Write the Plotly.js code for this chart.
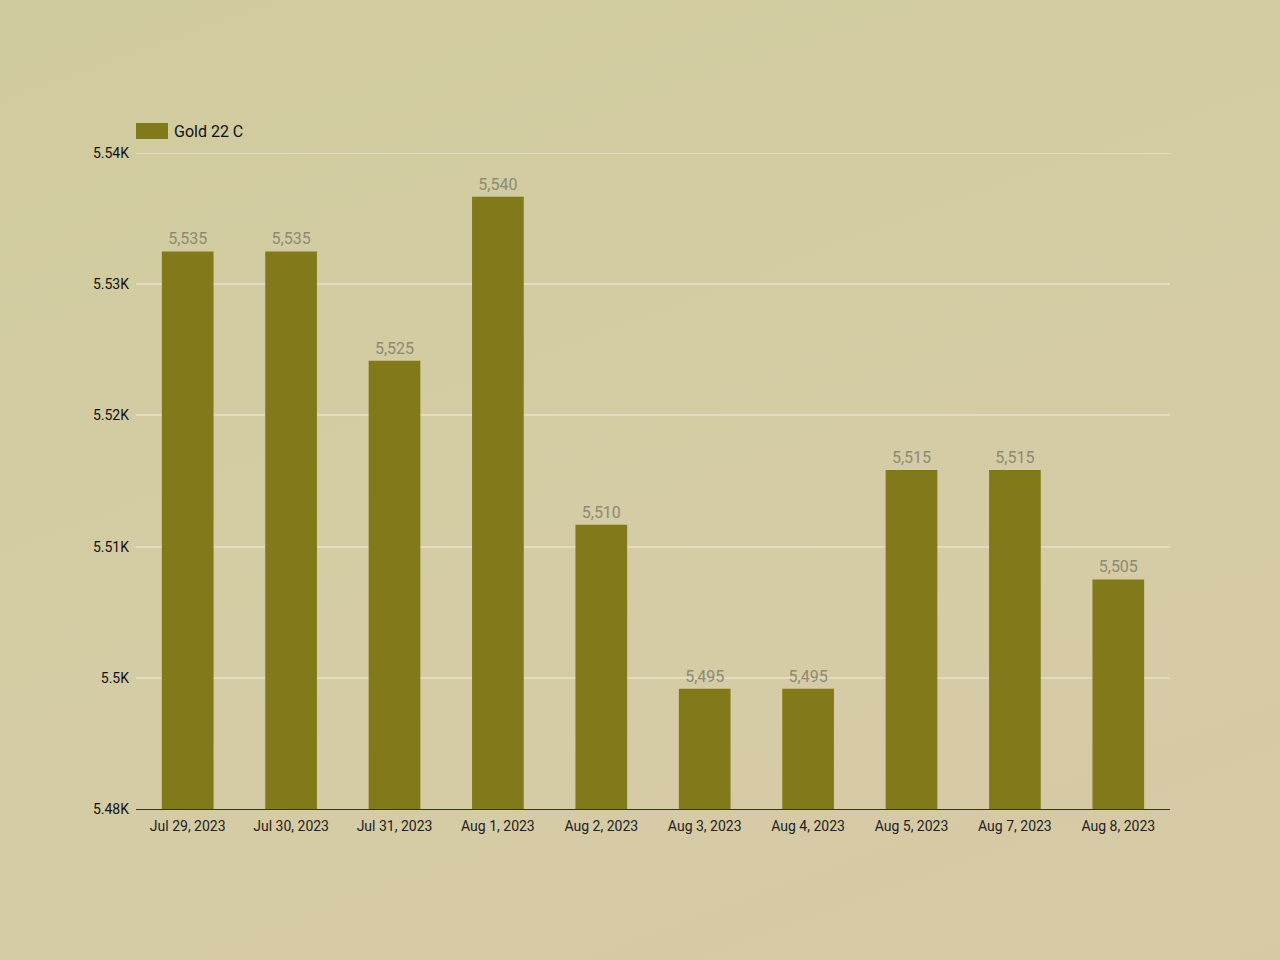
<!DOCTYPE html>
<html>
<head>
<meta charset="utf-8">
<script src="https://cdn.plot.ly/plotly-3.0.1.min.js"></script>
<style>
  html, body { margin: 0; padding: 0; }
  body { width: 1280px; height: 960px; background: linear-gradient(160deg, #d0cb9e 0%, #d4cca4 50%, #d7c9a6 100%); }
  #chart { width: 1280px; height: 960px; }
</style>
</head>
<body>
<div id="chart"></div>
<script>
const categories = ["Jul 29, 2023", "Jul 30, 2023", "Jul 31, 2023", "Aug 1, 2023", "Aug 2, 2023",
                    "Aug 3, 2023", "Aug 4, 2023", "Aug 5, 2023", "Aug 7, 2023", "Aug 8, 2023"];
const gold22 = [5535, 5535, 5525, 5540, 5510, 5495, 5495, 5515, 5515, 5505];
const seriesName = "Gold 22 C";
const yTickVals = [5484, 5496, 5508, 5520, 5532, 5544];
const yTickText = ["5.48K", "5.5K", "5.51K", "5.52K", "5.53K", "5.54K"];

const trace = {
  type: "bar",
  x: categories,
  y: gold22,
  name: seriesName,
  marker: { color: "#827a1a" },
  width: 0.5,
  text: gold22.map(v => v.toLocaleString("en-US")),
  textposition: "outside",
  cliponaxis: false,
  textfont: { family: "Roboto", size: 16, color: "#8c8a72" },
  hoverinfo: "x+y",
  showlegend: false
};

const layout = {
  width: 1280, height: 960,
  paper_bgcolor: "rgba(0,0,0,0)",
  plot_bgcolor: "rgba(0,0,0,0)",
  margin: { l: 136, r: 110, t: 153, b: 151 },
  font: { family: "Roboto", color: "#222" },
  bargap: 0.5,
  showlegend: false,
  xaxis: {
    type: "category",
    showline: true, linecolor: "#333", linewidth: 1,
    showgrid: false, ticks: "",
    ticklabelstandoff: 4,
    tickfont: { family: "Roboto", size: 14, color: "#222" },
    automargin: false
  },
  yaxis: {
    range: [5484, 5544],
    tickvals: yTickVals, ticktext: yTickText,
    showgrid: true, gridcolor: "#e0dcc2", gridwidth: 2,
    zeroline: false, showline: false, ticks: "",
    ticklabelstandoff: 6,
    tickfont: { family: "Roboto", size: 14, color: "#111" },
    automargin: false
  },
  shapes: [
    {
      type: "line", xref: "paper", yref: "y", layer: "below",
      x0: 0, x1: 1, y0: yTickVals[yTickVals.length - 1], y1: yTickVals[yTickVals.length - 1],
      line: { color: "#e0dcc2", width: 2 }
    },
    {
      type: "rect", xref: "paper", yref: "paper",
      x0: 0, x1: 32 / 1034, y0: (656 + 14) / 656, y1: (656 + 30) / 656,
      fillcolor: "#827a1a", line: { width: 0 }
    }
  ],
  annotations: [{
    xref: "paper", yref: "paper", x: 36 / 1034, y: (656 + 22) / 656,
    xanchor: "left", yanchor: "middle", showarrow: false,
    text: seriesName, font: { family: "Roboto", size: 16, color: "#111" }
  }]
};

Plotly.newPlot("chart", [trace], layout, { displayModeBar: false, staticPlot: true });
</script>
</body>
</html>
